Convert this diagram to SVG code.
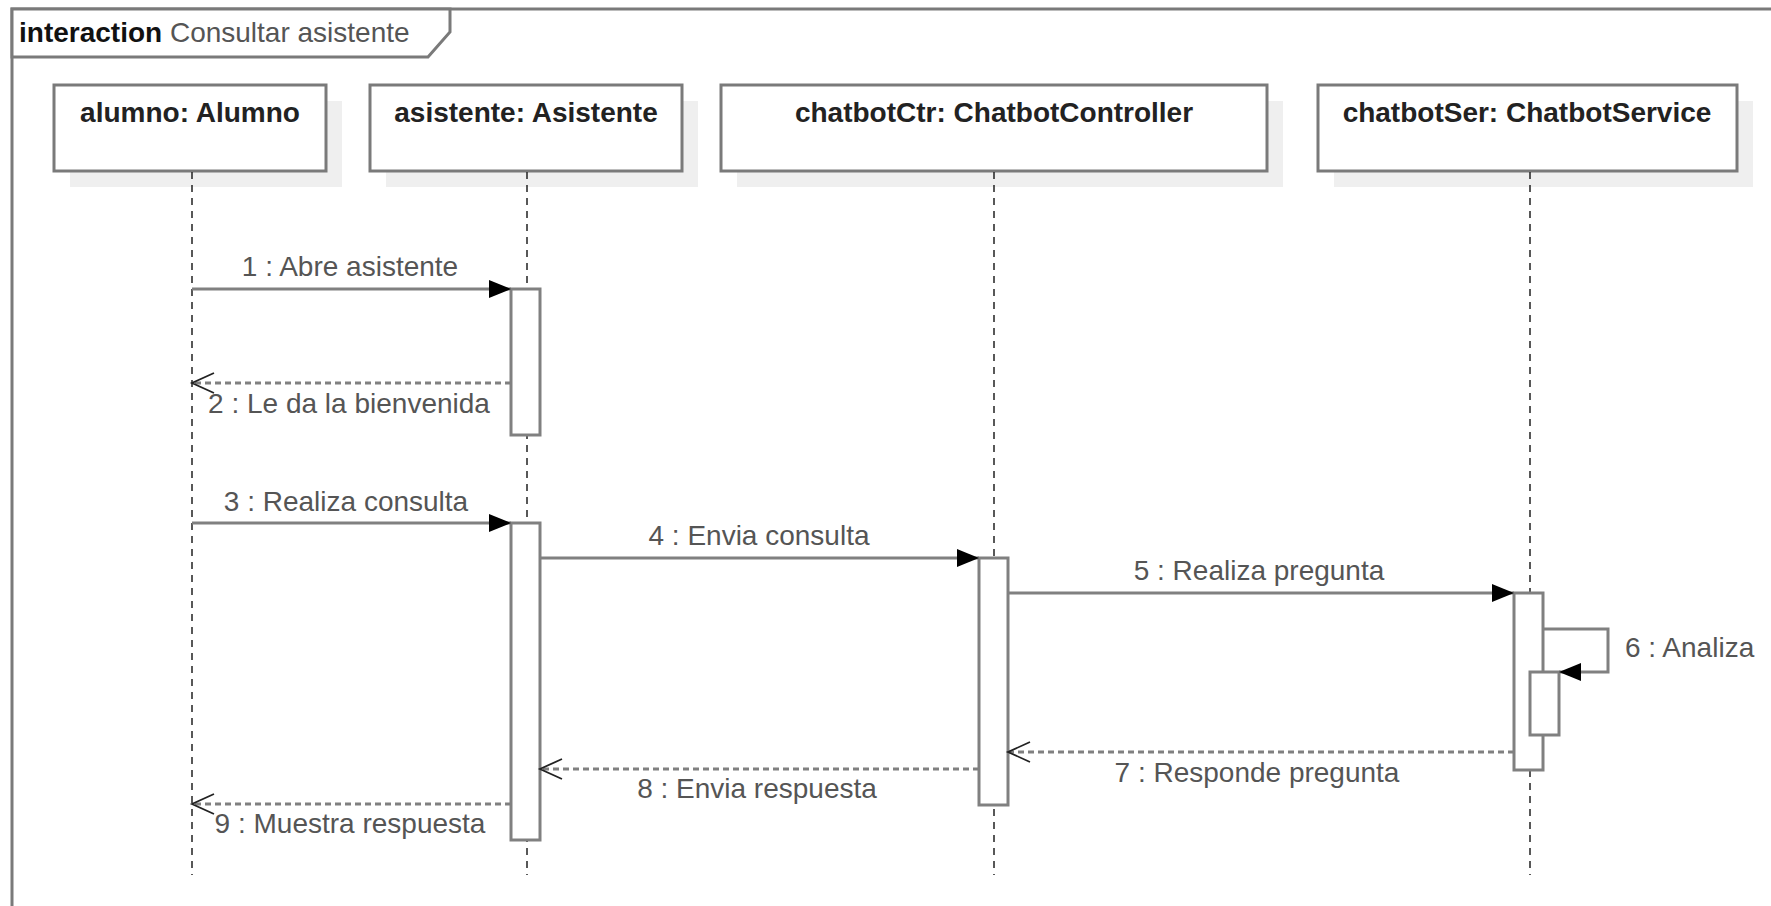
<svg xmlns="http://www.w3.org/2000/svg" width="1771" height="906" viewBox="0 0 1771 906">
  <style>
    .frame { fill: none; stroke: #7a7a7a; stroke-width: 3; }
    .head { fill: #ffffff; stroke: #7a7a7a; stroke-width: 3; }
    .shadow { fill: #efefef; stroke: none; }
    .headtxt { font-family: "Liberation Sans", Arial, sans-serif; font-size: 28px; font-weight: bold; fill: #222222; text-anchor: middle; }
    .life { fill: none; stroke: #222222; stroke-width: 1.5; stroke-dasharray: 7 6; }
    .act { fill: #ffffff; stroke: #808080; stroke-width: 3; }
    .msg { fill: none; stroke: #808080; stroke-width: 3; }
    .ret { fill: none; stroke: #808080; stroke-width: 3; stroke-dasharray: 6 4; }
    .lbl { font-family: "Liberation Sans", Arial, sans-serif; font-size: 28px; fill: #555555; text-anchor: middle; }
    .title { font-family: "Liberation Sans", Arial, sans-serif; font-size: 28px; fill: #555555; }
  </style>
  <defs>
    <marker id="filled" markerUnits="userSpaceOnUse" markerWidth="24" markerHeight="20" refX="22" refY="9" orient="auto">
      <path d="M0,0 L22,9 L0,18 z" fill="#000000"/>
    </marker>
    <marker id="open" markerUnits="userSpaceOnUse" markerWidth="26" markerHeight="24" refX="23" refY="11" orient="auto">
      <path d="M1,1 L23,11 L1,21" fill="none" stroke="#222222" stroke-width="1.8"/>
    </marker>
  </defs>

  <g id="frame">
    <rect class="frame" x="12" y="9" width="1800" height="920"/>
    <path d="M12,9 H450 V32 L428,57 H12 Z" fill="#ffffff" stroke="#7a7a7a" stroke-width="3"/>
    <text class="title" x="19" y="42"><tspan font-weight="bold" fill="#111111">interaction</tspan> Consultar asistente</text>
  </g>

  <g id="alumno">
    <rect class="shadow" x="70" y="101" width="272" height="86"/>
    <rect class="head" x="54" y="85" width="272" height="86"/>
    <text class="headtxt" x="190" y="122">alumno: Alumno</text>
    <line class="life" x1="192" y1="172" x2="192" y2="875"/>
  </g>

  <g id="asistente">
    <rect class="shadow" x="386" y="101" width="312" height="86"/>
    <rect class="head" x="370" y="85" width="312" height="86"/>
    <text class="headtxt" x="526" y="122">asistente: Asistente</text>
    <line class="life" x1="527" y1="172" x2="527" y2="875"/>
    <rect class="act" x="511" y="289" width="29" height="146"/>
    <rect class="act" x="511" y="523" width="29" height="317"/>
  </g>

  <g id="chatbotCtr">
    <rect class="shadow" x="737" y="101" width="546" height="86"/>
    <rect class="head" x="721" y="85" width="546" height="86"/>
    <text class="headtxt" x="994" y="122">chatbotCtr: ChatbotController</text>
    <line class="life" x1="994" y1="172" x2="994" y2="875"/>
    <rect class="act" x="979" y="558" width="29" height="247"/>
  </g>

  <g id="chatbotSer">
    <rect class="shadow" x="1334" y="101" width="419" height="86"/>
    <rect class="head" x="1318" y="85" width="419" height="86"/>
    <text class="headtxt" x="1527" y="122">chatbotSer: ChatbotService</text>
    <line class="life" x1="1530" y1="172" x2="1530" y2="875"/>
    <rect class="act" x="1514" y="593" width="29" height="177"/>
    <rect class="act" x="1530" y="672" width="29" height="63"/>
  </g>

  <g id="connectors">
    <line class="msg" x1="192" y1="289" x2="511" y2="289" marker-end="url(#filled)"/>
    <text class="lbl" x="350" y="276">1 : Abre asistente</text>

    <line class="ret" x1="511" y1="383" x2="192" y2="383" marker-end="url(#open)"/>
    <text class="lbl" x="349" y="413">2 : Le da la bienvenida</text>

    <line class="msg" x1="192" y1="523" x2="511" y2="523" marker-end="url(#filled)"/>
    <text class="lbl" x="346" y="511">3 : Realiza consulta</text>

    <line class="msg" x1="540" y1="558" x2="979" y2="558" marker-end="url(#filled)"/>
    <text class="lbl" x="759" y="545">4 : Envia consulta</text>

    <line class="msg" x1="1008" y1="593" x2="1514" y2="593" marker-end="url(#filled)"/>
    <text class="lbl" x="1259" y="580">5 : Realiza pregunta</text>

    <path class="msg" d="M1543,629 H1608 V672 H1559" marker-end="url(#filled)"/>
    <text class="lbl" x="1625" y="657" text-anchor="start" style="text-anchor:start">6 : Analiza</text>

    <line class="ret" x1="1514" y1="752" x2="1008" y2="752" marker-end="url(#open)"/>
    <text class="lbl" x="1257" y="782">7 : Responde pregunta</text>

    <line class="ret" x1="979" y1="769" x2="540" y2="769" marker-end="url(#open)"/>
    <text class="lbl" x="757" y="798">8 : Envia respuesta</text>

    <line class="ret" x1="511" y1="804" x2="192" y2="804" marker-end="url(#open)"/>
    <text class="lbl" x="350" y="833">9 : Muestra respuesta</text>
  </g>
</svg>
